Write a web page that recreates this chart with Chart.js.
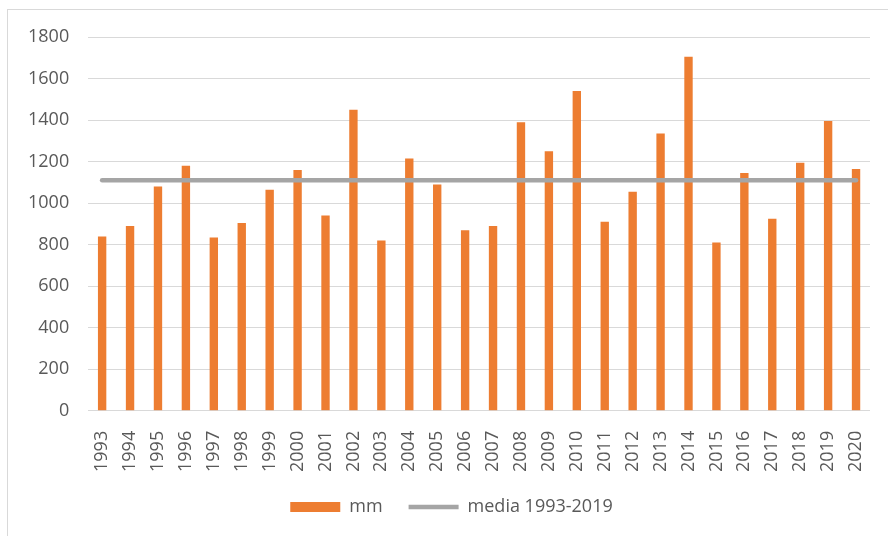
<!DOCTYPE html>
<html>
<head>
<meta charset="utf-8">
<script src="https://cdn.jsdelivr.net/npm/chart.js@4/dist/chart.umd.min.js"></script>
<style>
  html, body { margin: 0; padding: 0; background: #fff; }
  #wrap { position: relative; width: 888px; height: 536px; }
  #frame {
    position: absolute; left: 7px; top: 9px; right: -10px; bottom: -10px;
    border-left: 1px solid #d9d9d9; border-top: 1px solid #d9d9d9;
  }
  canvas { position: absolute; left: 0; top: 0; }
</style>
</head>
<body>
<div id="wrap">
  <div id="frame"></div>
  <canvas id="rainchart" width="888" height="536"></canvas>
</div>
<script>
// Annual rainfall (mm), 1993-2020
const years = [
  "1993", "1994", "1995", "1996", "1997", "1998", "1999", "2000",
  "2001", "2002", "2003", "2004", "2005", "2006", "2007", "2008",
  "2009", "2010", "2011", "2012", "2013", "2014", "2015", "2016",
  "2017", "2018", "2019", "2020",
];
const rainfall = [
  840, 890, 1080, 1180, 835, 905, 1065, 1160,
  940, 1450, 820, 1215, 1090, 870, 890, 1390,
  1250, 1540, 910, 1055, 1335, 1705, 810, 1145,
  925, 1195, 1395, 1165,
];
// average 1993-2019, drawn as a flat line across all years
const media = [
  1110, 1110, 1110, 1110, 1110, 1110, 1110, 1110,
  1110, 1110, 1110, 1110, 1110, 1110, 1110, 1110,
  1110, 1110, 1110, 1110, 1110, 1110, 1110, 1110,
  1110, 1110, 1110, 1110,
];
const yTicks = [0, 200, 400, 600, 800, 1000, 1200, 1400, 1600, 1800];

const textColor = "#595959";
const gridColor = "#d9d9d9";
const fontFamily = "'Open Sans', sans-serif";

// nudge the legend a bit to the right of the layout centre
const legendShift = {
  id: "legendShift",
  afterLayout(chart) {
    chart.legend.left += 12;
    chart.legend.right += 12;
  },
};

const ctx = document.getElementById("rainchart").getContext("2d");

new Chart(ctx, {
  data: {
    labels: years,
    datasets: [
      {
        type: "bar",
        label: "mm",
        data: rainfall,
        backgroundColor: "#ed7d31",
        borderWidth: 0,
        barPercentage: 0.3,
        categoryPercentage: 1,
        pointStyle: "rect",
        order: 1,
      },
      {
        type: "line",
        label: "media 1993-2019",
        data: media,
        borderColor: "#a5a5a5",
        borderWidth: 4.5,
        borderCapStyle: "round",
        pointRadius: 0,
        pointStyle: "line",
        fill: false,
        order: 0,
      },
    ],
  },
  options: {
    responsive: false,
    animation: false,
    layout: {
      padding: { left: 9, right: 18, top: 37, bottom: 10 },
    },
    plugins: {
      tooltip: { enabled: false },
      legend: {
        position: "bottom",
        labels: {
          usePointStyle: true,
          pointStyleWidth: 50,
          boxHeight: 10,
          padding: 26,
          color: textColor,
          font: { family: fontFamily, size: 18 },
          sort: (a, b) => a.datasetIndex - b.datasetIndex,
        },
      },
    },
    scales: {
      x: {
        grid: { display: false, drawTicks: false },
        border: { display: false },
        ticks: {
          color: textColor,
          font: { family: fontFamily, size: 18 },
          minRotation: 90,
          maxRotation: 90,
          padding: 20,
          autoSkip: false,
        },
        // pull the plot a little lower without moving the legend,
        // and don't reserve side room for the rotated end labels
        afterFit: (scale) => {
          scale.height -= 20;
          scale.paddingLeft = 0;
          scale.paddingRight = 0;
        },
      },
      y: {
        min: 0,
        max: 1800,
        afterBuildTicks: (scale) => {
          scale.ticks = yTicks.map((v) => ({ value: v }));
        },
        grid: { color: gridColor, lineWidth: 1, drawTicks: false },
        border: { display: false },
        ticks: {
          color: textColor,
          font: { family: fontFamily, size: 18 },
          padding: 19,
          callback: (value) => String(value),
        },
      },
    },
  },
  plugins: [legendShift],
});
</script>
</body>
</html>
